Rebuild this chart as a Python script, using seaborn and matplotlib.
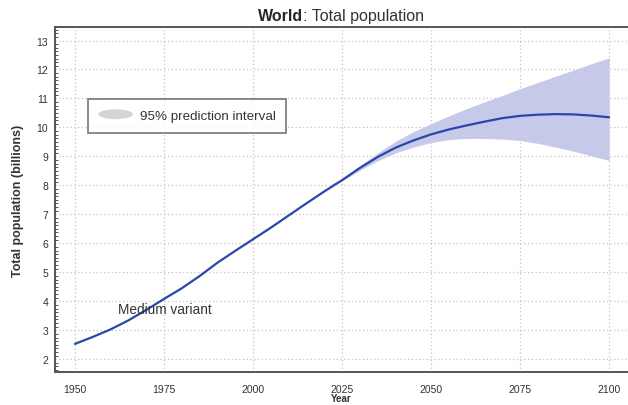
import pandas as pd
import matplotlib
matplotlib.use("Agg")
import matplotlib.pyplot as plt
import seaborn as sns
from matplotlib.patches import Patch, Ellipse
from matplotlib.legend_handler import HandlerPatch
from matplotlib.ticker import MultipleLocator

# Medium variant, billions
years = [1950, 1955, 1960, 1965, 1970, 1975, 1980, 1985, 1990, 1995, 2000,
         2005, 2010, 2015, 2020, 2025, 2030, 2035, 2040, 2045, 2050, 2055,
         2060, 2065, 2070, 2075, 2080, 2085, 2090, 2095, 2100]
medium = [2.53, 2.77, 3.03, 3.34, 3.70, 4.08, 4.45, 4.87, 5.33, 5.74, 6.14,
          6.54, 6.96, 7.38, 7.79, 8.18, 8.60, 8.98, 9.30, 9.55, 9.76, 9.93,
          10.07, 10.20, 10.32, 10.40, 10.44, 10.46, 10.45, 10.41, 10.35]

# 95% prediction interval
pi_years = [2022, 2025, 2030, 2035, 2040, 2045, 2050, 2055, 2060, 2065, 2070,
            2075, 2080, 2085, 2090, 2095, 2100]
pi_low = [8.02, 8.15, 8.52, 8.85, 9.12, 9.32, 9.48, 9.58, 9.62, 9.62, 9.60,
          9.55, 9.45, 9.32, 9.18, 9.02, 8.86]
pi_high = [8.04, 8.22, 8.68, 9.12, 9.52, 9.85, 10.13, 10.40, 10.65, 10.88, 11.10,
           11.34, 11.55, 11.77, 11.98, 12.20, 12.40]

df = pd.DataFrame({"Year": years, "Population": medium})
pi = pd.DataFrame({"Year": pi_years, "low": pi_low, "high": pi_high})

sns.set_style("white")
plt.rcParams["font.family"] = ["Liberation Sans", "DejaVu Sans"]

fig = plt.figure(figsize=(6.28, 4.06), dpi=100)
ax = fig.add_axes([0.0876, 0.0813, 0.9124, 0.850])

ax.fill_between(pi["Year"], pi["low"], pi["high"], color="#c7c9e9", lw=0, zorder=2)
sns.lineplot(data=df, x="Year", y="Population", color="#2747ab", lw=1.6, ax=ax, zorder=3)

ax.set_xlim(1944.4, 2105.3)
ax.set_ylim(1.56, 13.47)
ax.set_xticks([1950, 1975, 2000, 2025, 2050, 2075, 2100])
ax.set_yticks(range(2, 14))
ax.yaxis.set_minor_locator(MultipleLocator(0.125))

ax.grid(True, which="major", linestyle=(0, (1, 2)), color="#c4c4c4", lw=0.9)
ax.tick_params(axis="y", which="major", direction="in", length=4, width=1,
               labelsize=7.5, pad=5, colors="#444444", labelcolor="#333333")
ax.tick_params(axis="y", which="minor", direction="in", length=2.5, width=0.7,
               colors="#555555", left=True)
ax.tick_params(axis="x", which="major", direction="out", length=3, width=1,
               labelsize=7.5, pad=6, colors="#444444", labelcolor="#333333")

for side in ["left", "bottom", "top"]:
    ax.spines[side].set_color("#555555")
    ax.spines[side].set_linewidth(1.4)
ax.spines["right"].set_visible(False)

ax.set_xlabel("Year", fontsize=7, fontweight="bold", labelpad=-1, color="#333333")
ax.set_ylabel("Total population (billions)", fontsize=9, fontweight="bold",
              labelpad=9, color="#333333")

ax.text(1962, 3.73, "Medium variant", fontsize=9.8, color="#333333", va="center", zorder=4)


def make_ellipse(legend, orig_handle, xdescent, ydescent, width, height, fontsize):
    return Ellipse((width / 2 - xdescent, height / 2 - ydescent), width, height)


handle = Patch(facecolor="#d4d4d4", edgecolor="none")
leg = ax.legend([handle], ["95% prediction interval"], loc="upper left",
                bbox_to_anchor=(0.057, 0.792), borderaxespad=0, fontsize=9.6,
                frameon=True, fancybox=False, edgecolor="#555555",
                handlelength=2.6, handleheight=0.75, handletextpad=0.5,
                borderpad=0.8, labelcolor="#333333",
                handler_map={Patch: HandlerPatch(patch_func=make_ellipse)})
leg.get_frame().set_linewidth(1.2)

fig.text(0.4825, 0.96, "World", fontsize=11.5, fontweight="bold", ha="right", va="center")
fig.text(0.4825, 0.96, ": Total population", fontsize=11.5, ha="left", va="center", color="#333333")

fig.savefig("out.png", dpi=100)
